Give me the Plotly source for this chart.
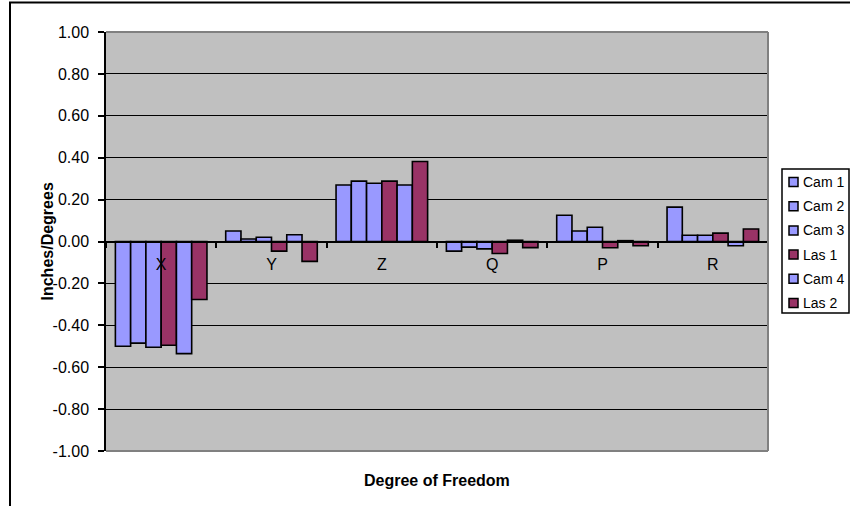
import plotly.graph_objects as go

# Degree-of-freedom categories and measured offsets per sensor
categories = ["X", "Y", "Z", "Q", "P", "R"]
series_names = ["Cam 1", "Cam 2", "Cam 3", "Las 1", "Cam 4", "Las 2"]
cam1 = [-0.500, 0.050, 0.270, -0.046, 0.125, 0.164]
cam2 = [-0.485, 0.012, 0.288, -0.027, 0.050, 0.030]
cam3 = [-0.505, 0.020, 0.278, -0.035, 0.068, 0.030]
las1 = [-0.495, -0.046, 0.288, -0.057, -0.030, 0.040]
cam4 = [-0.535, 0.032, 0.270, 0.006, 0.004, -0.020]
las2 = [-0.277, -0.095, 0.382, -0.029, -0.020, 0.060]
series_values = [cam1, cam2, cam3, las1, cam4, las2]

y_ticks = [-1.0, -0.8, -0.6, -0.4, -0.2, 0.0, 0.2, 0.4, 0.6, 0.8, 1.0]
y_tick_labels = ["-1.00", "-0.80", "-0.60", "-0.40", "-0.20", "0.00",
                 "0.20", "0.40", "0.60", "0.80", "1.00"]

CAM = "#9999FF"
LAS = "#993366"
colors = [CAM, CAM, CAM, LAS, CAM, LAS]
FONT = "Liberation Sans, Arial, sans-serif"

W, H = 850, 506
ML, MR, MT, MB = 106, 82, 32, 55
PW, PH = W - ML - MR, H - MT - MB


def px_x(px):
    return (px - ML) / PW


def px_y(py):
    return (H - MB - py) / PH


fig = go.Figure()
for name, vals, col in zip(series_names, series_values, colors):
    fig.add_trace(go.Bar(
        x=categories, y=vals, name=name,
        marker=dict(color=col, line=dict(color="black", width=1.6)),
        showlegend=False,
    ))

shapes = []
annotations = []

# plot-area frame (top, right, bottom) in grey
for x0, y0, x1, y1 in [(0, 1, 1, 1), (1, 0, 1, 1), (0, 0, 1, 0)]:
    shapes.append(dict(type="line", xref="paper", yref="paper",
                       x0=x0, y0=y0, x1=x1, y1=y1,
                       line=dict(color="#808080", width=2), layer="above"))

# chart-area border
shapes.append(dict(type="rect", xref="paper", yref="paper",
                   x0=px_x(10), y0=px_y(H + 20), x1=px_x(W + 20), y1=px_y(2.5),
                   line=dict(color="black", width=2), fillcolor="rgba(0,0,0,0)"))

# legend box
lx0, lx1, ly0, ly1 = 782, 849, 169, 313
shapes.append(dict(type="rect", xref="paper", yref="paper",
                   x0=px_x(lx0), x1=px_x(lx1), y0=px_y(ly1), y1=px_y(ly0),
                   line=dict(color="black", width=1.5), fillcolor="white"))
row0, row_step = 182, 24.2
for i, (name, col) in enumerate(zip(series_names, colors)):
    cy = row0 + i * row_step
    shapes.append(dict(type="rect", xref="paper", yref="paper",
                       x0=px_x(789), x1=px_x(798), y0=px_y(cy + 4.5), y1=px_y(cy - 4.5),
                       line=dict(color="black", width=1.5), fillcolor=col))
    annotations.append(dict(xref="paper", yref="paper", x=px_x(801), y=px_y(cy),
                            xanchor="left", yanchor="middle", text=name,
                            showarrow=False, font=dict(family=FONT, size=14, color="black")))

# axis titles
annotations.append(dict(xref="paper", yref="paper", x=0.5, y=px_y(480),
                        xanchor="center", yanchor="middle", text="<b>Degree of Freedom</b>",
                        showarrow=False, font=dict(family=FONT, size=16, color="black")))
annotations.append(dict(xref="paper", yref="paper", x=px_x(47), y=0.5,
                        xanchor="center", yanchor="middle", text="<b>Inches/Degrees</b>",
                        textangle=-90, showarrow=False,
                        font=dict(family=FONT, size=16, color="black")))

fig.update_layout(
    width=W, height=H,
    margin=dict(l=ML, r=MR, t=MT, b=MB, pad=0),
    paper_bgcolor="white", plot_bgcolor="#C0C0C0",
    barmode="group", bargap=0.17, bargroupgap=0,
    font=dict(family=FONT, size=16, color="black"),
    shapes=shapes, annotations=annotations,
    showlegend=False,
    xaxis=dict(
        type="category", anchor="free", position=0.5,
        showline=True, linecolor="black", linewidth=1.5,
        ticks="outside", ticklen=6, tickcolor="black", tickwidth=1.5,
        tickson="boundaries", ticklabelstandoff=9,
        showgrid=False, zeroline=False,
        tickfont=dict(family=FONT, size=16, color="black"),
    ),
    yaxis=dict(
        range=[-1, 1], tickvals=y_ticks, ticktext=y_tick_labels,
        showline=True, linecolor="black", linewidth=1.5,
        ticks="outside", ticklen=6, tickcolor="black", tickwidth=1.5,
        ticklabelstandoff=6,
        showgrid=True, gridcolor="black", gridwidth=1.2,
        zeroline=False,
        tickfont=dict(family=FONT, size=16, color="black"),
    ),
)

fig.write_html("out.html")
